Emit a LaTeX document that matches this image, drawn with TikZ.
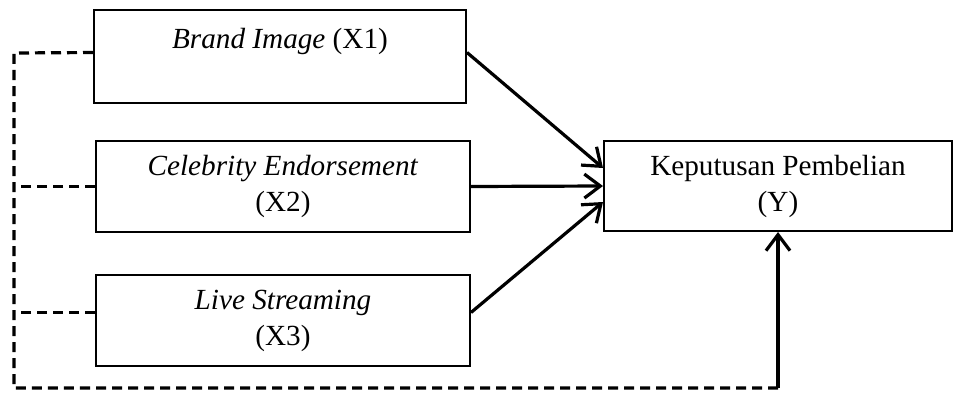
\documentclass[tikz,border=0pt]{standalone}
\usepackage{fontspec}
\setmainfont{Liberation Serif}
\usepackage{tikz}
\usetikzlibrary{arrows.meta,positioning,calc}

\begin{document}
\begin{tikzpicture}[
  x=0.5pt, y=-0.5pt,
  >={Straight Barb[length=8pt,width=12pt]},
  var/.style={draw, line width=1pt, align=center, inner sep=0pt,
              font=\fontsize{14.6}{18}\selectfont},
  arr/.style={->, line width=1.6pt},
  darr/.style={line width=1.6pt, dash pattern=on 5pt off 3pt},
]
\useasboundingbox (0,0) rectangle (972,396);
%% Left column: independent variables
\node[var, minimum width=186pt, minimum height=46.5pt] (x1) at (280,56.5)
  {\textit{Brand Image} (X1)\\ \mbox{}};
\node[var, minimum width=187pt, minimum height=45.5pt] (x2) at (283,186.5)
  {\textit{Celebrity Endorsement}\\(X2)};
\node[var, minimum width=187pt, minimum height=45.5pt] (x3) at (283,320.5)
  {\textit{Live Streaming}\\(X3)};
%% Right: dependent variable
\node[var, minimum width=174pt, minimum height=45pt] (y) at (778,186)
  {Keputusan Pembelian\\(Y)};
%% Partial effects
\draw[arr] ([yshift=2pt]x1.east) -- ([yshift=9pt]y.west);
\draw[arr] (x2.east) -- (y.west);
\draw[arr] ([yshift=4pt]x3.east) -- ([yshift=-8pt]y.west);
%% Simultaneous effect (dashed)
\coordinate (lt) at (14,53);
\coordinate (lb) at (14,388);
\coordinate (rb) at (y.south |- lb);
\draw[darr] ([yshift=2pt]x1.west) -- (lt) -- (lb) -- (rb);
\draw[darr] (x2.west) -- (x2.west -| lt);
\draw[darr] ([yshift=4pt]x3.west) -- ([yshift=4pt]x3.west -| lt);
\draw[arr] (rb) -- (y.south);
\end{tikzpicture}
\end{document}
